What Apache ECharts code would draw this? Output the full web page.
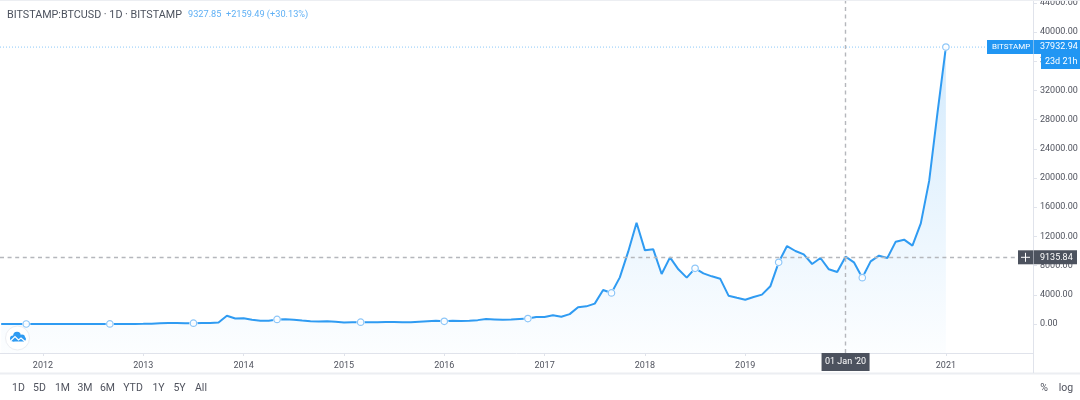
<!DOCTYPE html>
<html><head><meta charset="utf-8">
<style>html,body{margin:0;padding:0;background:#fff}#c{width:1080px;height:400px}</style>
<script src="https://cdn.jsdelivr.net/npm/echarts@6/dist/echarts.min.js"></script>
</head><body><div id="c"></div>
<script>
// Months are counted from Jan 2012 = 0; the series starts Aug 2011 = -5.
const firstMonth = -5;
const prices = [
  8,5,3,3,4,
  5,5,5,5,5,6,9,10,12,11,12,13,
  20,33,93,139,129,97,106,141,127,204,1130,757,
  800,570,460,445,620,640,580,480,390,340,370,320,
  220,250,245,235,230,262,285,230,236,315,377,430,
  370,440,415,450,530,670,620,570,610,700,745,970,
  970,1190,1000,1350,2290,2420,2790,4660,4250,6390,9910,13880,
  10090,10230,6850,9130,7490,6350,7630,6940,6530,6210,3880,3600,
  3330,3700,4020,5160,8450,10680,10000,9540,8220,9040,7490,7120,
  9220,8450,6340,8580,9360,9040,11280,11550,10730,13790,19600,29000,
  37932.94
];
const markerMonths = [-2,8,18,28,38,48,58,68,78,88,98,108];
const yearLabels = ['2012','2013','2014','2015','2016','2017','2018','2019','2020','2021'];
const yearMonths = [0,12,24,36,48,60,72,84,96,108];
const priceTicks = [0,4000,8000,12000,16000,20000,24000,28000,32000,36000,40000,44000];
const lastPrice = 37932.94;
const crossPrice = 9135.84;
const crossMonth = 96;
const crossDate = "01 Jan '20";
const rangeButtons = [['1D',18.5],['5D',39.5],['1M',62.5],['3M',85],['6M',107.5],['YTD',133],['1Y',158.5],['5Y',179.5],['All',201]];

const FONT = 'Roboto,"Noto Sans",sans-serif';
const TXT = '#50535e', BLUE = '#2196f3', RULE = '#e0e3eb', DARK = '#4c525e';
const lineData = prices.map((v,i)=>[firstMonth+i,v]);
const markerData = markerMonths.map(m=>[m,prices[m-firstMonth]]);
const xMin = -5.14, xMax = 118.42;

const chart = echarts.init(document.getElementById('c'),null,{renderer:'canvas'});
chart.setOption({
  animation:false,
  backgroundColor:'#fff',
  grid:{left:0,right:47,top:0,bottom:47,outerBoundsMode:'none'},
  xAxis:{type:'value',min:xMin,max:xMax,splitLine:{show:false},
    axisLine:{show:true,onZero:false,lineStyle:{color:RULE}},
    axisTick:{show:true,length:3,lineStyle:{color:RULE},customValues:yearMonths},
    axisLabel:{customValues:yearMonths,color:TXT,fontFamily:FONT,fontSize:9,margin:8,
      formatter:v=>yearLabels[yearMonths.indexOf(v)]}},
  yAxis:{type:'value',position:'right',min:-3973,max:44384,splitLine:{show:false},
    axisLine:{show:true,onZero:false,lineStyle:{color:RULE}},
    axisTick:{show:true,length:4,lineStyle:{color:RULE},customValues:priceTicks},
    axisLabel:{customValues:priceTicks,color:TXT,fontFamily:FONT,fontSize:9,margin:7,
      formatter:v=>v.toFixed(2)}},
  series:[
    {type:'line',data:[[xMin,lastPrice],[xMax,lastPrice]],symbol:'none',z:2,silent:true,
     lineStyle:{color:'#8cc8f8',type:[1,2],width:1}},
    {type:'line',data:lineData,symbol:'none',smooth:false,z:3,
     lineStyle:{color:'#2f9bf2',width:2},
     areaStyle:{origin:'start',color:{type:'linear',x:0,y:0,x2:0,y2:1,colorStops:[
       {offset:0,color:'rgba(33,150,243,0.28)'},{offset:1,color:'rgba(33,150,243,0.02)'}]}},
     markLine:{silent:true,symbol:'none',label:{show:false},data:[
       {yAxis:crossPrice,lineStyle:{color:'#b5b7bc',type:[4,3.6],width:1.4}},
       {xAxis:crossMonth,lineStyle:{color:'#b5b7bc',type:[4,3.6],width:1.4}}
     ]}},
    {type:'scatter',data:markerData,symbol:'circle',symbolSize:8.5,z:4,silent:true,
     itemStyle:{color:'#fff'}},
    {type:'scatter',data:markerData,symbol:'circle',symbolSize:6.5,z:5,silent:true,
     itemStyle:{color:'#fff',borderColor:'#70b8f6',borderWidth:1.2}}
  ]
});

const yLast = chart.convertToPixel({yAxisIndex:0},lastPrice);
const yCross = chart.convertToPixel({yAxisIndex:0},crossPrice);
const xCross = chart.convertToPixel({xAxisIndex:0},crossMonth);
const txt=(x,y,t,o={})=>({type:'text',z:20,x,y,style:Object.assign({text:t,fontFamily:FONT,fontSize:9,fill:TXT,align:'left',verticalAlign:'middle'},o)});
const box=(x,y,w,h,fill)=>({type:'rect',z:19,shape:{x,y,width:w,height:h},style:{fill}});
const rule=(x1,y1,x2,y2,lw,stroke)=>({type:'line',z:21,shape:{x1,y1,x2,y2},style:{stroke:stroke||RULE,lineWidth:lw||1}});
const cloud=(cx,cy,r)=>({type:'circle',z:11,shape:{cx,cy,r},style:{fill:'#2f9bf2'}});
const elements=[
  rule(0,0.5,1080,0.5,1,'#eceef2'),
  rule(0,373.5,1080,373.5,2,'#eceef2'),
  rule(1033.5,353,1033.5,373,1),
  txt(7,15,'BITSTAMP:BTCUSD · 1D · BITSTAMP',{fontSize:10.75,fill:'#4c525e'}),
  txt(188,15,'9327.85  +2159.49 (+30.13%)',{fontSize:9.2,fill:'#5fb0f5'}),
  box(987,yLast-7,46,14,BLUE),
  box(1033.5,yLast-7,46.5,14,BLUE),
  txt(992,yLast,'BITSTAMP',{fill:'#fff',fontSize:8}),
  txt(1040,yLast,lastPrice.toFixed(2),{fill:'#fff'}),
  box(1041,yLast+7,39,15,BLUE),
  txt(1045,yLast+14.5,'23d 21h',{fill:'#fff'}),
  box(1018,yCross-7,15,14,DARK),
  rule(1021,yCross,1030,yCross,1,'#fff'),
  rule(1025.5,yCross-4.5,1025.5,yCross+4.5,1,'#fff'),
  box(1033.5,yCross-7,43.5,14,DARK),
  txt(1040,yCross,crossPrice.toFixed(2),{fill:'#fff'}),
  box(xCross-24,353,48,18,DARK),
  txt(xCross,362,crossDate,{fill:'#fff',align:'center'}),
  txt(1044,388,'%',{fontSize:10.5,align:'center'}),
  txt(1066,388,'log',{fontSize:10.5,align:'center'}),
  {type:'circle',z:10,shape:{cx:17.5,cy:338,r:12},style:{fill:'#fff',stroke:'#eceef2',lineWidth:1}},
  cloud(13,338.5,3), cloud(17,335.5,3.8), cloud(22,337.5,3), cloud(24,339,2),
  {type:'rect',z:11,shape:{x:13,y:337.5,width:11,height:4},style:{fill:'#2f9bf2'}},
  {type:'polyline',z:12,shape:{points:[[10.5,341],[15,336.5],[18.5,340],[21,338],[25,341.5]]},style:{stroke:'#fff',fill:'none',lineWidth:1.2}}
];
rangeButtons.forEach(b=>elements.push(txt(b[1],388,b[0],{fontSize:10.5,align:'center'})));
chart.setOption({graphic:{elements}});
</script></body></html>
